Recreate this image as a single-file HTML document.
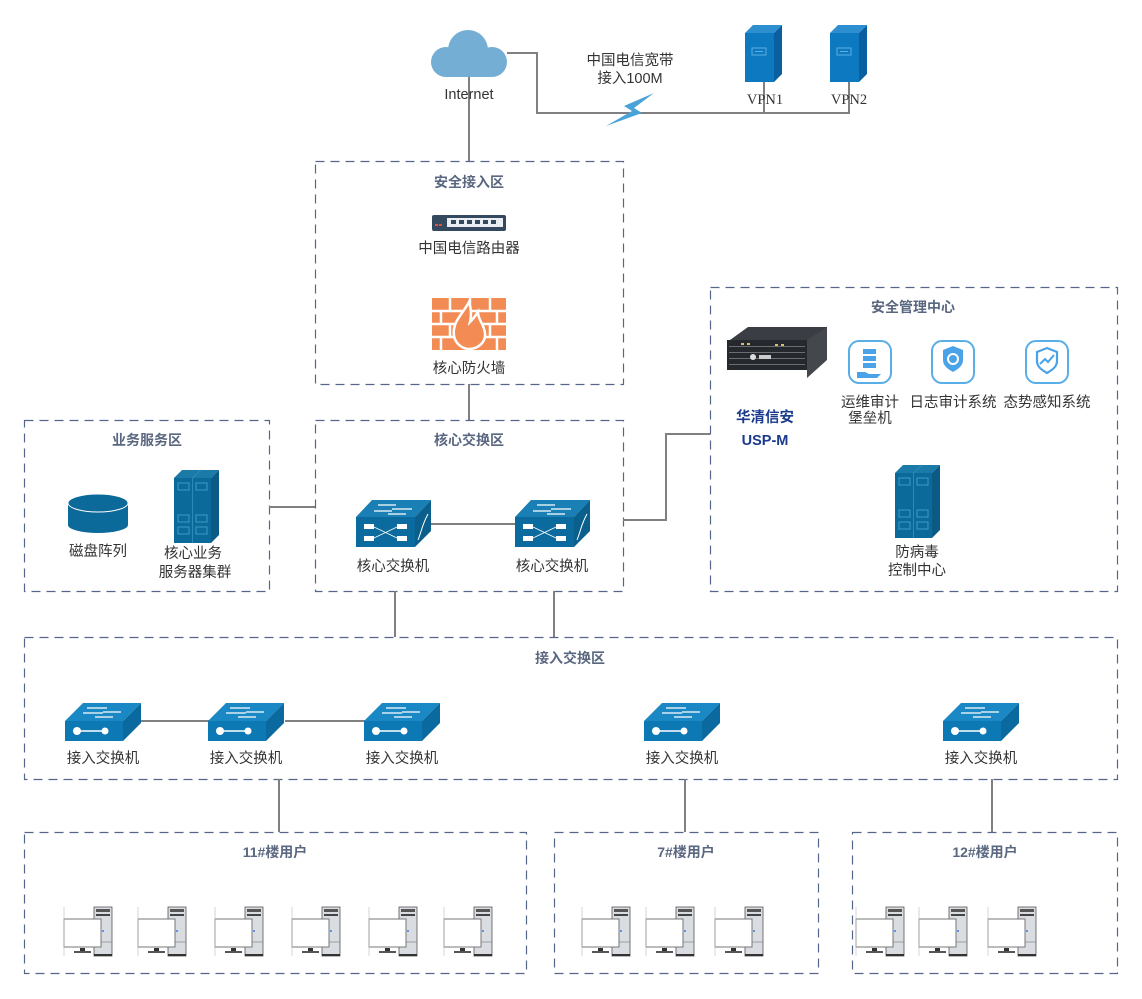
<!DOCTYPE html>
<html><head><meta charset="utf-8">
<style>
html,body{margin:0;padding:0;background:#fff;}
svg{display:block;}
text{font-family:"Liberation Sans","Noto Sans CJK SC",sans-serif;fill:#333;font-size:14.5px;}
.t{font-weight:bold;fill:#5a6780;font-size:14px;}
.box{fill:none;stroke:#56668a;stroke-width:1.2;stroke-dasharray:9,6;}
.ln{stroke:#808080;stroke-width:2;fill:none;}
</style></head><body>
<svg width="1142" height="999" viewBox="0 0 1142 999" xmlns="http://www.w3.org/2000/svg">
<defs>
 <g id="sw">
  <polygon points="18,0 76,0 58,18 0,18" fill="#1a88c4"/>
  <polygon points="58,18 76,0 76,20 58,38" fill="#0a6aa0"/>
  <rect x="0" y="18" width="58" height="20" fill="#0c78b4"/>
  <path d="M22,5h20M38,9h18M18,10h20M30,14h18" stroke="#fff" stroke-width="1.3"/>
  <line x1="12" y1="28" x2="40" y2="28" stroke="#fff" stroke-width="1.5"/>
  <circle cx="12" cy="28" r="4" fill="#fff"/><circle cx="40" cy="28" r="3.5" fill="#fff"/>
 </g>
 <g id="core">
  <polygon points="16,0 75,0 59,17 0,17" fill="#1a7fb4"/>
  <polygon points="59,17 75,0 75,31 59,47" fill="#0a5f8c"/>
  <rect x="0" y="17" width="59" height="30" fill="#0b6b9e"/>
  <path d="M22,5h18M36,9h20M18,11h18M32,14h18" stroke="#fff" stroke-width="1.2"/>
  <rect x="8" y="24" width="10" height="5" fill="#fff"/><rect x="41" y="24" width="10" height="5" fill="#fff"/>
  <rect x="8" y="36" width="10" height="5" fill="#fff"/><rect x="41" y="36" width="10" height="5" fill="#fff"/>
  <path d="M18,27L41,38M18,38L41,27" stroke="#fff" stroke-width="0.8"/>
  <path d="M62,40C66,30 66,25 72,14" stroke="#fff" stroke-width="1" fill="none"/>
 </g>
 <g id="pc">
  <rect x="30" y="0" width="18" height="49" fill="#d9dde2" stroke="#555" stroke-width="0.8"/>
  <rect x="32" y="2" width="14" height="3" fill="#555"/><rect x="32" y="7" width="14" height="2" fill="#444"/>
  <line x1="30" y1="35" x2="48" y2="35" stroke="#888" stroke-width="0.7"/>
  <rect x="30" y="47" width="18" height="2" fill="#333"/>
  <circle cx="39" cy="24" r="1" fill="#3b7de0"/>
  <rect x="0" y="12" width="37" height="28" fill="#fff" stroke="#777" stroke-width="1"/>
  <rect x="16" y="41" width="5" height="4" fill="#333"/><rect x="10" y="44" width="17" height="2" fill="#555"/>
  <line x1="0" y1="0" x2="0" y2="49" stroke="#bbb" stroke-width="0.6"/>
 </g>
 <g id="tower">
  <polygon points="0,8 8,0 45,0 37,8" fill="#1b7aa8"/>
  <polygon points="37,8 45,0 45,65 37,73" fill="#0a5a85"/>
  <rect x="0" y="8" width="37" height="65" fill="#0b6a9a"/>
  <line x1="18.5" y1="8" x2="18.5" y2="73" stroke="#2a8ab8" stroke-width="1"/>
  <line x1="18.5" y1="8" x2="27" y2="0" stroke="#2a8ab8" stroke-width="1"/>
  <g fill="none" stroke="#3d9bc8" stroke-width="1">
   <rect x="4" y="13" width="11" height="7"/><rect x="22" y="13" width="11" height="7"/>
   <rect x="4" y="45" width="11" height="7"/><rect x="22" y="45" width="11" height="7"/>
   <rect x="4" y="57" width="11" height="7"/><rect x="22" y="57" width="11" height="7"/>
  </g>
 </g>
 <g id="vpn">
  <polygon points="0,8 8,0 37,0 29,8" fill="#2d8fd0"/>
  <polygon points="29,8 37,0 37,49 29,57" fill="#0a5f9e"/>
  <rect x="0" y="8" width="29" height="49" fill="#0c79c0"/>
  <rect x="7" y="23" width="14" height="7" fill="none" stroke="#5aaee0" stroke-width="1"/>
  <line x1="10" y1="26.5" x2="18" y2="26.5" stroke="#5aaee0"/>
 </g>
 <g id="ibox"><rect x="1" y="1" width="42" height="42" rx="10" fill="#fff" stroke="#5aaee8" stroke-width="2"/></g>
</defs>

<path class="ln" d="M507,53H537V113H849V82"/>
<line class="ln" x1="764" y1="82" x2="764" y2="113"/>
<polygon points="654,93 624,106 632,111 606,126 642,113 634,108" fill="#4aa3d8"/>
<g fill="#74aed4">
 <circle cx="468" cy="50" r="20"/><circle cx="446" cy="62" r="15"/><circle cx="492" cy="62" r="15"/>
 <rect x="440" y="58" width="58" height="19" rx="9"/>
</g>
<line class="ln" x1="469" y1="77" x2="469" y2="161"/>
<text x="469" y="99" text-anchor="middle">Internet</text>
<text x="630" y="65" text-anchor="middle">中国电信宽带</text>
<text x="630" y="83" text-anchor="middle">接入100M</text>
<use href="#vpn" x="745" y="25"/><use href="#vpn" x="830" y="25"/>
<text x="765" y="104" text-anchor="middle" style="font-family:'Liberation Serif',serif" font-size="15">VPN1</text>
<text x="849" y="104" text-anchor="middle" style="font-family:'Liberation Serif',serif" font-size="15">VPN2</text>

<rect class="box" x="315.5" y="161.5" width="308" height="223"/>
<text class="t" x="469" y="187" text-anchor="middle">安全接入区</text>
<rect x="432" y="215" width="74" height="16" rx="2" fill="#34495e"/>
<rect x="447" y="218" width="56" height="9" fill="#e8eef4"/>
<g fill="#34495e"><rect x="451" y="220" width="5" height="4"/><rect x="459" y="220" width="5" height="4"/><rect x="467" y="220" width="5" height="4"/><rect x="475" y="220" width="5" height="4"/><rect x="483" y="220" width="5" height="4"/><rect x="491" y="220" width="5" height="4"/></g>
<rect x="435" y="224" width="3" height="2" fill="#e74c3c"/><rect x="439" y="224" width="3" height="2" fill="#e74c3c"/>
<text x="469" y="253" text-anchor="middle">中国电信路由器</text>
<rect x="432" y="298" width="74" height="52" fill="#f28b54"/>
<g stroke="#fff" stroke-width="2.5">
 <line x1="432" y1="311" x2="506" y2="311"/><line x1="432" y1="324" x2="506" y2="324"/><line x1="432" y1="337" x2="506" y2="337"/>
 <line x1="450" y1="298" x2="450" y2="311"/><line x1="470" y1="298" x2="470" y2="311"/><line x1="490" y1="298" x2="490" y2="311"/>
 <line x1="441" y1="311" x2="441" y2="324"/><line x1="497" y1="311" x2="497" y2="324"/>
 <line x1="450" y1="324" x2="450" y2="337"/><line x1="490" y1="324" x2="490" y2="337"/>
 <line x1="441" y1="337" x2="441" y2="350"/><line x1="497" y1="337" x2="497" y2="350"/>
</g>
<path d="M469,302C462,315 452,322 454,336C456,346 465,349 469,349C476,349 486,344 485,333C484,324 478,320 478,312C474,318 472,320 470,322C472,314 471,308 469,302Z" fill="#f28b54" stroke="#fff" stroke-width="2.5"/>
<text x="469" y="373" text-anchor="middle" font-size="13.5">核心防火墙</text>
<line class="ln" x1="469" y1="384" x2="469" y2="420"/>

<rect class="box" x="24.5" y="420.5" width="245" height="171"/>
<text class="t" x="147" y="445" text-anchor="middle">业务服务区</text>
<path d="M68,503V525A30,8 0 0,0 128,525V503Z" fill="#0b6a9a"/>
<ellipse cx="98" cy="503" rx="30" ry="9" fill="#0b6a9a" stroke="#fff" stroke-width="1"/>
<text x="98" y="556" text-anchor="middle">磁盘阵列</text>
<use href="#tower" x="174" y="470"/>
<text x="193" y="558" text-anchor="middle" font-size="14">核心业务</text>
<text x="195" y="577" text-anchor="middle" font-size="14">服务器集群</text>
<line class="ln" x1="269" y1="507" x2="315" y2="507"/>

<rect class="box" x="315.5" y="420.5" width="308" height="171"/>
<text class="t" x="469" y="445" text-anchor="middle">核心交换区</text>
<line class="ln" x1="431" y1="524" x2="515" y2="524"/>
<use href="#core" x="356" y="500"/><use href="#core" x="515" y="500"/>
<text x="393" y="571" text-anchor="middle">核心交换机</text>
<text x="552" y="571" text-anchor="middle">核心交换机</text>
<path class="ln" d="M623,520H666V434H710"/>

<rect class="box" x="710.5" y="287.5" width="407" height="304"/>
<text class="t" x="913" y="312" text-anchor="middle">安全管理中心</text>
<polygon points="730,340 748,327 827,327 827,340" fill="#3a3e44"/>
<rect x="727" y="340" width="80" height="30" fill="#25282d"/>
<polygon points="807,340 827,327 827,360 807,378" fill="#44474c"/>
<g fill="#6a6d72"><rect x="729" y="346" width="76" height="1"/><rect x="729" y="352" width="76" height="1"/><rect x="729" y="358" width="76" height="1"/><rect x="729" y="364" width="76" height="1"/></g>
<g fill="#d8c070"><rect x="741" y="343" width="3" height="2"/><rect x="747" y="343" width="3" height="2"/><rect x="775" y="344" width="3" height="2"/><rect x="781" y="344" width="3" height="2"/></g>
<circle cx="753" cy="357" r="3" fill="#ddd"/><rect x="759" y="355" width="12" height="4" fill="#ccc"/>
<text x="765" y="422" text-anchor="middle" font-weight="bold" font-size="19" style="fill:#1a3a8c">华清信安</text>
<text x="765" y="445" text-anchor="middle" font-weight="bold" font-size="19" style="fill:#1a3a8c">USP-M</text>
<use href="#ibox" x="848" y="340"/><use href="#ibox" x="931" y="340"/><use href="#ibox" x="1025" y="340"/>
<g fill="#4aa3e8">
 <rect x="863" y="349" width="13" height="5"/><rect x="863" y="356" width="13" height="5"/><rect x="863" y="363" width="13" height="5"/>
 <path d="M857,372h8l4,2h12l-4,4h-20z"/>
 <path d="M943,350l10,-4l10,4v10c0,6 -5,9 -10,12c-5,-3 -10,-6 -10,-12z"/>
</g>
<circle cx="953" cy="359" r="5" fill="none" stroke="#fff" stroke-width="2"/>
<path d="M1037,352l10,-4l10,4v9c0,6 -5,9 -10,12c-5,-3 -10,-6 -10,-12z" fill="none" stroke="#4aa3e8" stroke-width="2.2"/>
<path d="M1040,364l5,-5l3,3l6,-7" fill="none" stroke="#4aa3e8" stroke-width="2"/>
<text x="870" y="407" text-anchor="middle" font-size="13.5">运维审计</text>
<text x="870" y="423" text-anchor="middle" font-size="13.5">堡垒机</text>
<text x="953" y="407" text-anchor="middle" font-size="13.5">日志审计系统</text>
<text x="1047" y="407" text-anchor="middle" font-size="13.5">态势感知系统</text>
<use href="#tower" x="895" y="465"/>
<text x="917" y="557" text-anchor="middle">防病毒</text>
<text x="917" y="575" text-anchor="middle">控制中心</text>

<line class="ln" x1="395" y1="591" x2="395" y2="637"/>
<line class="ln" x1="554" y1="591" x2="554" y2="637"/>

<rect class="box" x="24.5" y="637.5" width="1093" height="142"/>
<text class="t" x="570" y="663" text-anchor="middle">接入交换区</text>
<line class="ln" x1="140" y1="721" x2="210" y2="721"/>
<line class="ln" x1="285" y1="721" x2="365" y2="721"/>
<use href="#sw" x="65" y="703"/><use href="#sw" x="208" y="703"/><use href="#sw" x="364" y="703"/>
<use href="#sw" x="644" y="703"/><use href="#sw" x="943" y="703"/>
<text x="103" y="763" text-anchor="middle">接入交换机</text>
<text x="246" y="763" text-anchor="middle">接入交换机</text>
<text x="402" y="763" text-anchor="middle">接入交换机</text>
<text x="682" y="763" text-anchor="middle">接入交换机</text>
<text x="981" y="763" text-anchor="middle">接入交换机</text>

<line class="ln" x1="279" y1="779" x2="279" y2="832"/>
<line class="ln" x1="685" y1="779" x2="685" y2="832"/>
<line class="ln" x1="992" y1="779" x2="992" y2="832"/>

<rect class="box" x="24.5" y="832.5" width="502" height="141"/>
<text class="t" x="275" y="857" text-anchor="middle">11#楼用户</text>
<rect class="box" x="554.5" y="832.5" width="264" height="141"/>
<text class="t" x="686" y="857" text-anchor="middle">7#楼用户</text>
<rect class="box" x="852.5" y="832.5" width="265" height="141"/>
<text class="t" x="985" y="857" text-anchor="middle">12#楼用户</text>
<use href="#pc" x="64" y="907"/><use href="#pc" x="138" y="907"/><use href="#pc" x="215" y="907"/>
<use href="#pc" x="292" y="907"/><use href="#pc" x="369" y="907"/><use href="#pc" x="444" y="907"/>
<use href="#pc" x="582" y="907"/><use href="#pc" x="646" y="907"/><use href="#pc" x="715" y="907"/>
<use href="#pc" x="856" y="907"/><use href="#pc" x="919" y="907"/><use href="#pc" x="988" y="907"/>
</svg>
</body></html>
